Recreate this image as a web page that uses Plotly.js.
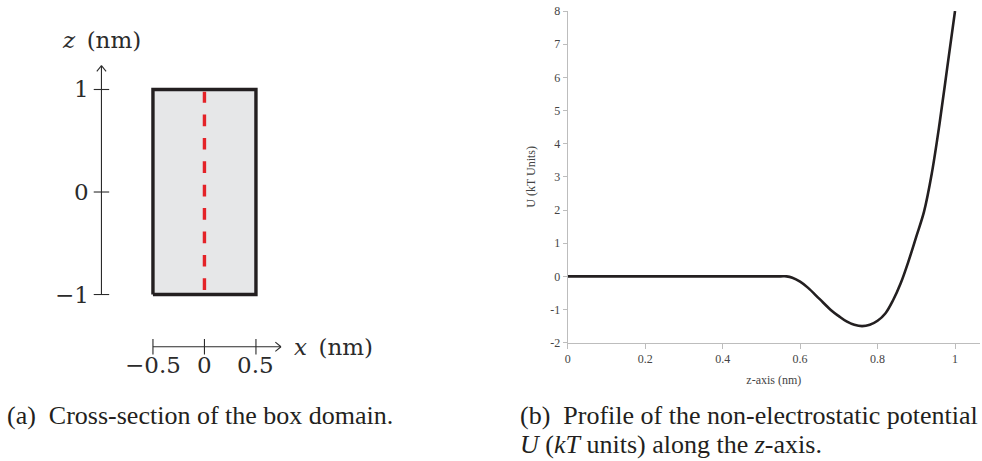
<!DOCTYPE html>
<html>
<head>
<meta charset="utf-8">
<script src="https://cdn.plot.ly/plotly-3.0.1.min.js"></script>
<style>
  html, body { margin: 0; padding: 0; background: #ffffff; }
  #chart { width: 982px; height: 461px; }
</style>
</head>
<body>
<div id="chart"></div>
<script>
// ---- Panel (a): cross-section of the box domain ----
const boxXLimits = [-0.5, 0.5];
const boxZLimits = [-1, 1];
const xTickValues = [-0.5, 0, 0.5];
const xTickLabels = ['\u22120.5', '0', '0.5'];
const zTickValues = [-1, 0, 1];
const zTickLabels = ['\u22121', '0', '1'];

// ---- Panel (b): non-electrostatic potential U along the z-axis ----
const zPosition = [0, 0.1, 0.2, 0.3, 0.4, 0.5, 0.55, 0.565, 0.58, 0.6, 0.62, 0.65, 0.68, 0.7,
                   0.72, 0.74, 0.76, 0.78, 0.8, 0.82, 0.84, 0.86, 0.88, 0.9, 0.92, 0.94, 0.96, 0.98, 1.0];
const potentialU = [0, 0, 0, 0, 0, 0, 0, 0, -0.04, -0.16, -0.34, -0.68, -1.02, -1.2,
                    -1.36, -1.46, -1.5, -1.46, -1.34, -1.12, -0.72, -0.2, 0.46, 1.2, 1.95, 3.1, 4.6, 6.3, 8.0];
const profileXTicks = [0, 0.2, 0.4, 0.6, 0.8, 1];
const profileYTicks = [-2, -1, 0, 1, 2, 3, 4, 5, 6, 7, 8];

// Diagram geometry (data units of the hidden x2/y2 axes)
const zAxisAt = -1.0;          // x where the vertical z axis sits
const zAxisTop = 1.232;        // arrow tip of the z axis
const xAxisAt = -1.509;        // z where the horizontal x axis sits
const xAxisEnd = 0.743;        // arrow tip of the x axis
const tickHalf = 0.075;
const diagramInk = '#2b2b2b';
const mathFont = { family: 'DejaVu Serif, serif', size: 23, color: '#2b2b2b' };

// segment helper: list of [[x0,y0],[x1,y1]] -> x/y arrays with gaps
function segments(list) {
  const xs = [], ys = [];
  list.forEach(s => { xs.push(s[0][0], s[1][0], null); ys.push(s[0][1], s[1][1], null); });
  return { x: xs, y: ys };
}

const zTickSegs = segments(zTickValues.map(v => [[zAxisAt - tickHalf, v], [zAxisAt + tickHalf, v]]));
const xTickSegs = segments(xTickValues.map(v => [[v, xAxisAt - tickHalf], [v, xAxisAt + tickHalf]]));
const arrowHeads = segments([
  [[zAxisAt - 0.045, zAxisTop - 0.055], [zAxisAt, zAxisTop]],
  [[zAxisAt + 0.045, zAxisTop - 0.055], [zAxisAt, zAxisTop]],
  [[xAxisEnd - 0.055, xAxisAt + 0.045], [xAxisEnd, xAxisAt]],
  [[xAxisEnd - 0.055, xAxisAt - 0.045], [xAxisEnd, xAxisAt]]
]);

const traces = [
  // shaded box
  {
    x: [boxXLimits[0], boxXLimits[1], boxXLimits[1], boxXLimits[0], boxXLimits[0]],
    y: [boxZLimits[0], boxZLimits[0], boxZLimits[1], boxZLimits[1], boxZLimits[0]],
    xaxis: 'x2', yaxis: 'y2', mode: 'lines', fill: 'toself', fillcolor: '#e6e7e8',
    line: { color: '#231f20', width: 3.4 }, hoverinfo: 'skip'
  },
  // red dashed centre line (the z-axis of the box)
  {
    x: [0, 0], y: [boxZLimits[0] + 0.044, boxZLimits[1] - 0.021],
    xaxis: 'x2', yaxis: 'y2', mode: 'lines',
    line: { color: '#e42328', width: 3.4, dash: '11.7px,11.7px' }, hoverinfo: 'skip'
  },
  // z axis line
  {
    x: [zAxisAt, zAxisAt], y: [boxZLimits[0], zAxisTop],
    xaxis: 'x2', yaxis: 'y2', mode: 'lines', line: { color: diagramInk, width: 1.1 }, hoverinfo: 'skip'
  },
  // x axis line
  {
    x: [boxXLimits[0], xAxisEnd], y: [xAxisAt, xAxisAt],
    xaxis: 'x2', yaxis: 'y2', mode: 'lines', line: { color: diagramInk, width: 1.1 }, hoverinfo: 'skip'
  },
  // tick marks and arrow heads
  {
    x: zTickSegs.x.concat(xTickSegs.x, arrowHeads.x), y: zTickSegs.y.concat(xTickSegs.y, arrowHeads.y),
    xaxis: 'x2', yaxis: 'y2', mode: 'lines', connectgaps: false,
    line: { color: diagramInk, width: 1.1 }, hoverinfo: 'skip'
  },
  // potential profile
  {
    x: zPosition, y: potentialU, mode: 'lines',
    line: { color: '#231f20', width: 2.6, shape: 'spline', smoothing: 1 }, hoverinfo: 'skip'
  }
];

const annotations = [];
zTickValues.forEach((v, i) => annotations.push({
  xref: 'x2', yref: 'y2', x: zAxisAt - 0.1, y: v, text: zTickLabels[i],
  xanchor: 'right', yanchor: 'middle', showarrow: false, font: mathFont
}));
xTickValues.forEach((v, i) => annotations.push({
  xref: 'x2', yref: 'y2', x: v, y: -1.688, text: xTickLabels[i],
  xanchor: 'center', yanchor: 'middle', showarrow: false, font: mathFont
}));
annotations.push({
  xref: 'x2', yref: 'y2', x: zAxisAt, y: 1.483, text: '<i>z</i>\u2002(nm)',
  xanchor: 'center', yanchor: 'middle', showarrow: false, font: mathFont
});
annotations.push({
  xref: 'x2', yref: 'y2', x: 0.85, y: xAxisAt, text: '<i>x</i>\u2002(nm)',
  xanchor: 'left', yanchor: 'middle', showarrow: false, font: mathFont
});
// captions
const captionFont = { family: 'Liberation Serif, serif', size: 26, color: '#231f20' };
annotations.push({
  xref: 'paper', yref: 'paper', x: 5 / 982, y: 1 - 415 / 461,
  text: '(a)\u2002Cross-section of the box domain.',
  xanchor: 'left', yanchor: 'middle', showarrow: false, font: captionFont
});
annotations.push({
  xref: 'paper', yref: 'paper', x: 518 / 982, y: 1 - 415 / 461,
  text: '(b)\u2002Profile of the non-electrostatic potential',
  xanchor: 'left', yanchor: 'middle', showarrow: false, font: captionFont
});
annotations.push({
  xref: 'paper', yref: 'paper', x: 518 / 982, y: 1 - 444 / 461,
  text: '<i>U</i> (<i>kT</i> units) along the <i>z</i>-axis.',
  xanchor: 'left', yanchor: 'middle', showarrow: false, font: captionFont
});

const tickFont = { family: 'Liberation Serif, serif', size: 12, color: '#444444' };
const layout = {
  width: 982, height: 461,
  margin: { l: 0, r: 0, t: 0, b: 0 },
  paper_bgcolor: '#ffffff', plot_bgcolor: 'rgba(0,0,0,0)',
  showlegend: false,
  xaxis: {
    domain: [567.7 / 982, 980 / 982], range: [0, 1.0645],
    tickvals: profileXTicks, ticktext: profileXTicks.map(String),
    ticks: 'outside', ticklen: 5, tickcolor: '#bdbdbd', tickwidth: 1,
    showline: true, linecolor: '#bdbdbd', linewidth: 1,
    showgrid: false, zeroline: false, tickfont: tickFont,
    title: { text: 'z-axis (nm)', font: tickFont, standoff: 10 }
  },
  yaxis: {
    domain: [(461 - 342.7) / 461, (461 - 11) / 461], range: [-2, 8],
    tickvals: profileYTicks, ticktext: profileYTicks.map(String),
    ticks: 'outside', ticklen: 4, tickcolor: '#bdbdbd', tickwidth: 1,
    showline: true, linecolor: '#bdbdbd', linewidth: 1,
    showgrid: false, zeroline: false, tickfont: tickFont,
    title: { text: 'U (kT Units)', font: tickFont, standoff: 12 }
  },
  xaxis2: { domain: [0, 491 / 982], range: [-1.985, 2.782], visible: false, fixedrange: true },
  yaxis2: { domain: [0, 1], range: [-2.624, 1.873], visible: false, fixedrange: true, anchor: 'x2' },
  annotations: annotations
};

Plotly.newPlot('chart', traces, layout, { staticPlot: true, displayModeBar: false });
</script>
</body>
</html>
